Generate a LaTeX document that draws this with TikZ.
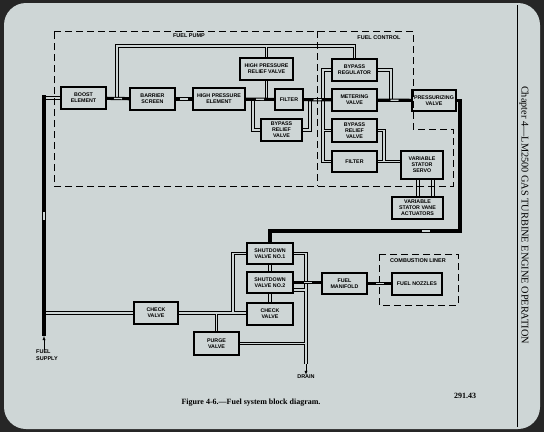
\documentclass[tikz,border=0pt]{standalone}
\usepackage{fontspec}
\setmainfont{Liberation Serif}
\setsansfont{Liberation Sans}
\usetikzlibrary{decorations.markings}
\definecolor{paper}{RGB}{206,214,214}
\pgfdeclarelayer{bg}
\pgfdeclarelayer{pipes}
\pgfsetlayers{bg,pipes,main}
\begin{document}
\begin{tikzpicture}[x=1pt, y=-1pt, >=latex,
    blk/.style={draw, line width=1.1pt, fill=paper, minimum width=45pt, minimum height=22pt,
      inner sep=1pt, align=center, font=\fontsize{5.3}{6.1}\selectfont\sffamily\bfseries},
    lbl/.style={font=\fontsize{5.5}{6.5}\selectfont\sffamily\bfseries, inner sep=0pt},
    zone/.style={line width=0.9pt, dash pattern=on 7pt off 4pt},
    tube/.style={double=paper, line width=0.9pt, double distance=1.4pt},
    pipe/.style={line width=3.2pt, postaction={decorate, decoration={markings,
      mark=at position 0.5 with {\fill[paper] (-4pt,-0.7pt) rectangle (4pt,0.7pt);}}}}]
  \useasboundingbox (0,0) rectangle (544,432);
  \begin{pgfonlayer}{bg}
    \fill[black!85] (0,0) rectangle (544,432);
    \fill[paper, rounded corners=22pt] (4,3) rectangle (540,429);
  \end{pgfonlayer}

  % fuel pump
  \node (boost)[blk] at (83.5,98) {BOOST\\ELEMENT};
  \node (barrier)[blk] at (152.5,99) {BARRIER\\SCREEN};
  \node (hpe)[blk, minimum width=52pt] at (219,99) {HIGH PRESSURE\\ELEMENT};
  \node (hprv)[blk, minimum width=53pt] at (266.5,69) {HIGH PRESSURE\\RELIEF VALVE};
  \node (pfilter)[blk, minimum width=28pt, minimum height=21pt] at (289,99.5) {FILTER};
  \node (pbrv)[blk, minimum width=41pt] at (281.5,130) {BYPASS\\RELIEF\\VALVE};
  % fuel control
  \node (breg)[blk] at (354.5,70) {BYPASS\\REGULATOR};
  \node (meter)[blk] at (354.5,100) {METERING\\VALVE};
  \node (cbrv)[blk, minimum height=23pt] at (354.5,130.5) {BYPASS\\RELIEF\\VALVE};
  \node (cfilter)[blk, minimum height=21pt] at (354.5,161.5) {FILTER};
  \node (press)[blk, minimum width=44pt, minimum height=21pt] at (434,100.5) {PRESSURIZING\\VALVE};
  \node (servo)[blk, minimum width=42pt, minimum height=28pt] at (422,165) {VARIABLE\\STATOR\\SERVO};
  \node (act)[blk, minimum width=51pt] at (417.5,208) {VARIABLE\\STATOR VANE\\ACTUATORS};
  % shutdown and combustor
  \node (sv1)[blk, minimum width=46pt, minimum height=21pt] at (270,253.5) {SHUTDOWN\\VALVE NO.1};
  \node (sv2)[blk, minimum width=46pt, minimum height=21pt] at (270,282.5) {SHUTDOWN\\VALVE NO.2};
  \node (chk2)[blk, minimum width=46pt] at (270,314) {CHECK\\VALVE};
  \node (manifold)[blk, minimum height=21pt] at (344.5,283.5) {FUEL\\MANIFOLD};
  \node (nozzles)[blk, minimum width=50pt] at (417,284) {FUEL NOZZLES};
  \node (chk1)[blk, minimum width=44pt] at (156,313) {CHECK\\VALVE};
  \node (purge)[blk, minimum height=23pt] at (216.5,343.5) {PURGE\\VALVE};

  \node (pumplbl)[lbl] at (189,36) {FUEL PUMP};
  \node (ctrllbl)[lbl] at (379,38) {FUEL CONTROL};
  \node (linerlbl)[lbl] at (418,261) {COMBUSTION LINER};
  \node (drain)[lbl] at (306,377) {DRAIN};
  \node (supply)[lbl, anchor=north west, align=left] at (36,350) {FUEL\\SUPPLY};

  \draw[zone] (54,31) -- (413,31) -- (413,129) -- (453,129) -- (453,186) -- (54,186) -- cycle;
  \draw[zone] (317,31) -- (317,186);
  \draw[zone] (379,254) rectangle (458,305);

  \coordinate (sk) at (44,95);
  \coordinate (st) at (44,98);
  \coordinate (sb) at (44,336);
  \coordinate (rt) at (117,46);
  \coordinate (pa) at (253,99);
  \coordinate (pb) at (310,100);
  \coordinate (ci) at (323,100);
  \coordinate (cr) at (391,100);
  \coordinate (cj) at (384,161.5);
  \coordinate (va) at (418,179);
  \coordinate (vb) at (433,179);
  \coordinate (tj) at (233,313);
  \coordinate (dr) at (306,364);
  \coordinate (s2o) at (293,290);
  \coordinate (pt) at (460,231);

  \begin{pgfonlayer}{pipes}
    % hollow lines
    \draw[tube] (st) -- (boost.west)
      (breg.north) |- (rt) -- (rt |- boost.east)
      (hprv.north) -- (hprv.north |- rt)
      (hprv.south) -- (hprv.south |- hpe.east)
      (pbrv.west) -| (pa)
      (pbrv.east) -| (pb)
      (breg.west) -| (ci)
      (cbrv.west) -| (ci)
      (cfilter.west) -| (ci)
      (breg.east) -| (cr)
      (cbrv.east) -| (cj)
      (cfilter.east) -- (cfilter.east -| servo.west)
      (va) -- (va |- act.north)
      (vb) -- (vb |- act.north)
      (sv1.west) -| (tj)
      (chk1.east) -- (chk1.east -| chk2.west)
      (purge.north) -- (purge.north |- chk1.east)
      (chk1.west -| sb) -- (chk1.west)
      (sv1.east) -| (dr)
      (s2o) -- (s2o -| dr)
      (purge.east) -- (purge.east -| dr);
    % main flow
    \draw[pipe] (sk) -- (sb);
    \draw[pipe] (boost) -- (barrier);
    \draw[pipe] (barrier) -- (hpe);
    \draw[pipe] (hpe) -- (pfilter);
    \draw[pipe] (pfilter) -- (meter);
    \draw[pipe] (meter) -- (press);
    \draw[pipe] (press.east) -| (pt) -| (sv1.north);
    \draw[pipe] (sv1) -- (sv2);
    \draw[pipe] (sv2) -- (chk2);
    \draw[pipe] (sv2.east) -- (sv2.east -| manifold.west);
    \draw[pipe] (manifold.east) -- (manifold.east -| nozzles.west);
  \end{pgfonlayer}
  \draw[->, thin] (dr) -- (drain.north);
  \draw[->, thin] (supply.north -| sb) -- (sb);

  \draw[line width=0.8pt] (517,5) -- (517,427);
  \node (chap)[rotate=-90, font=\fontsize{10.3}{12}\selectfont] at (524,215)
    {Chapter 4—LM2500 GAS TURBINE ENGINE OPERATION};
  \node (cap)[font=\fontsize{8}{9}\selectfont\bfseries] at (251,403)
    {Figure 4-6.—Fuel system block diagram.};
  \node (fig)[font=\fontsize{8}{9}\selectfont\bfseries] at (465,396) {291.43};
\end{tikzpicture}
\end{document}
